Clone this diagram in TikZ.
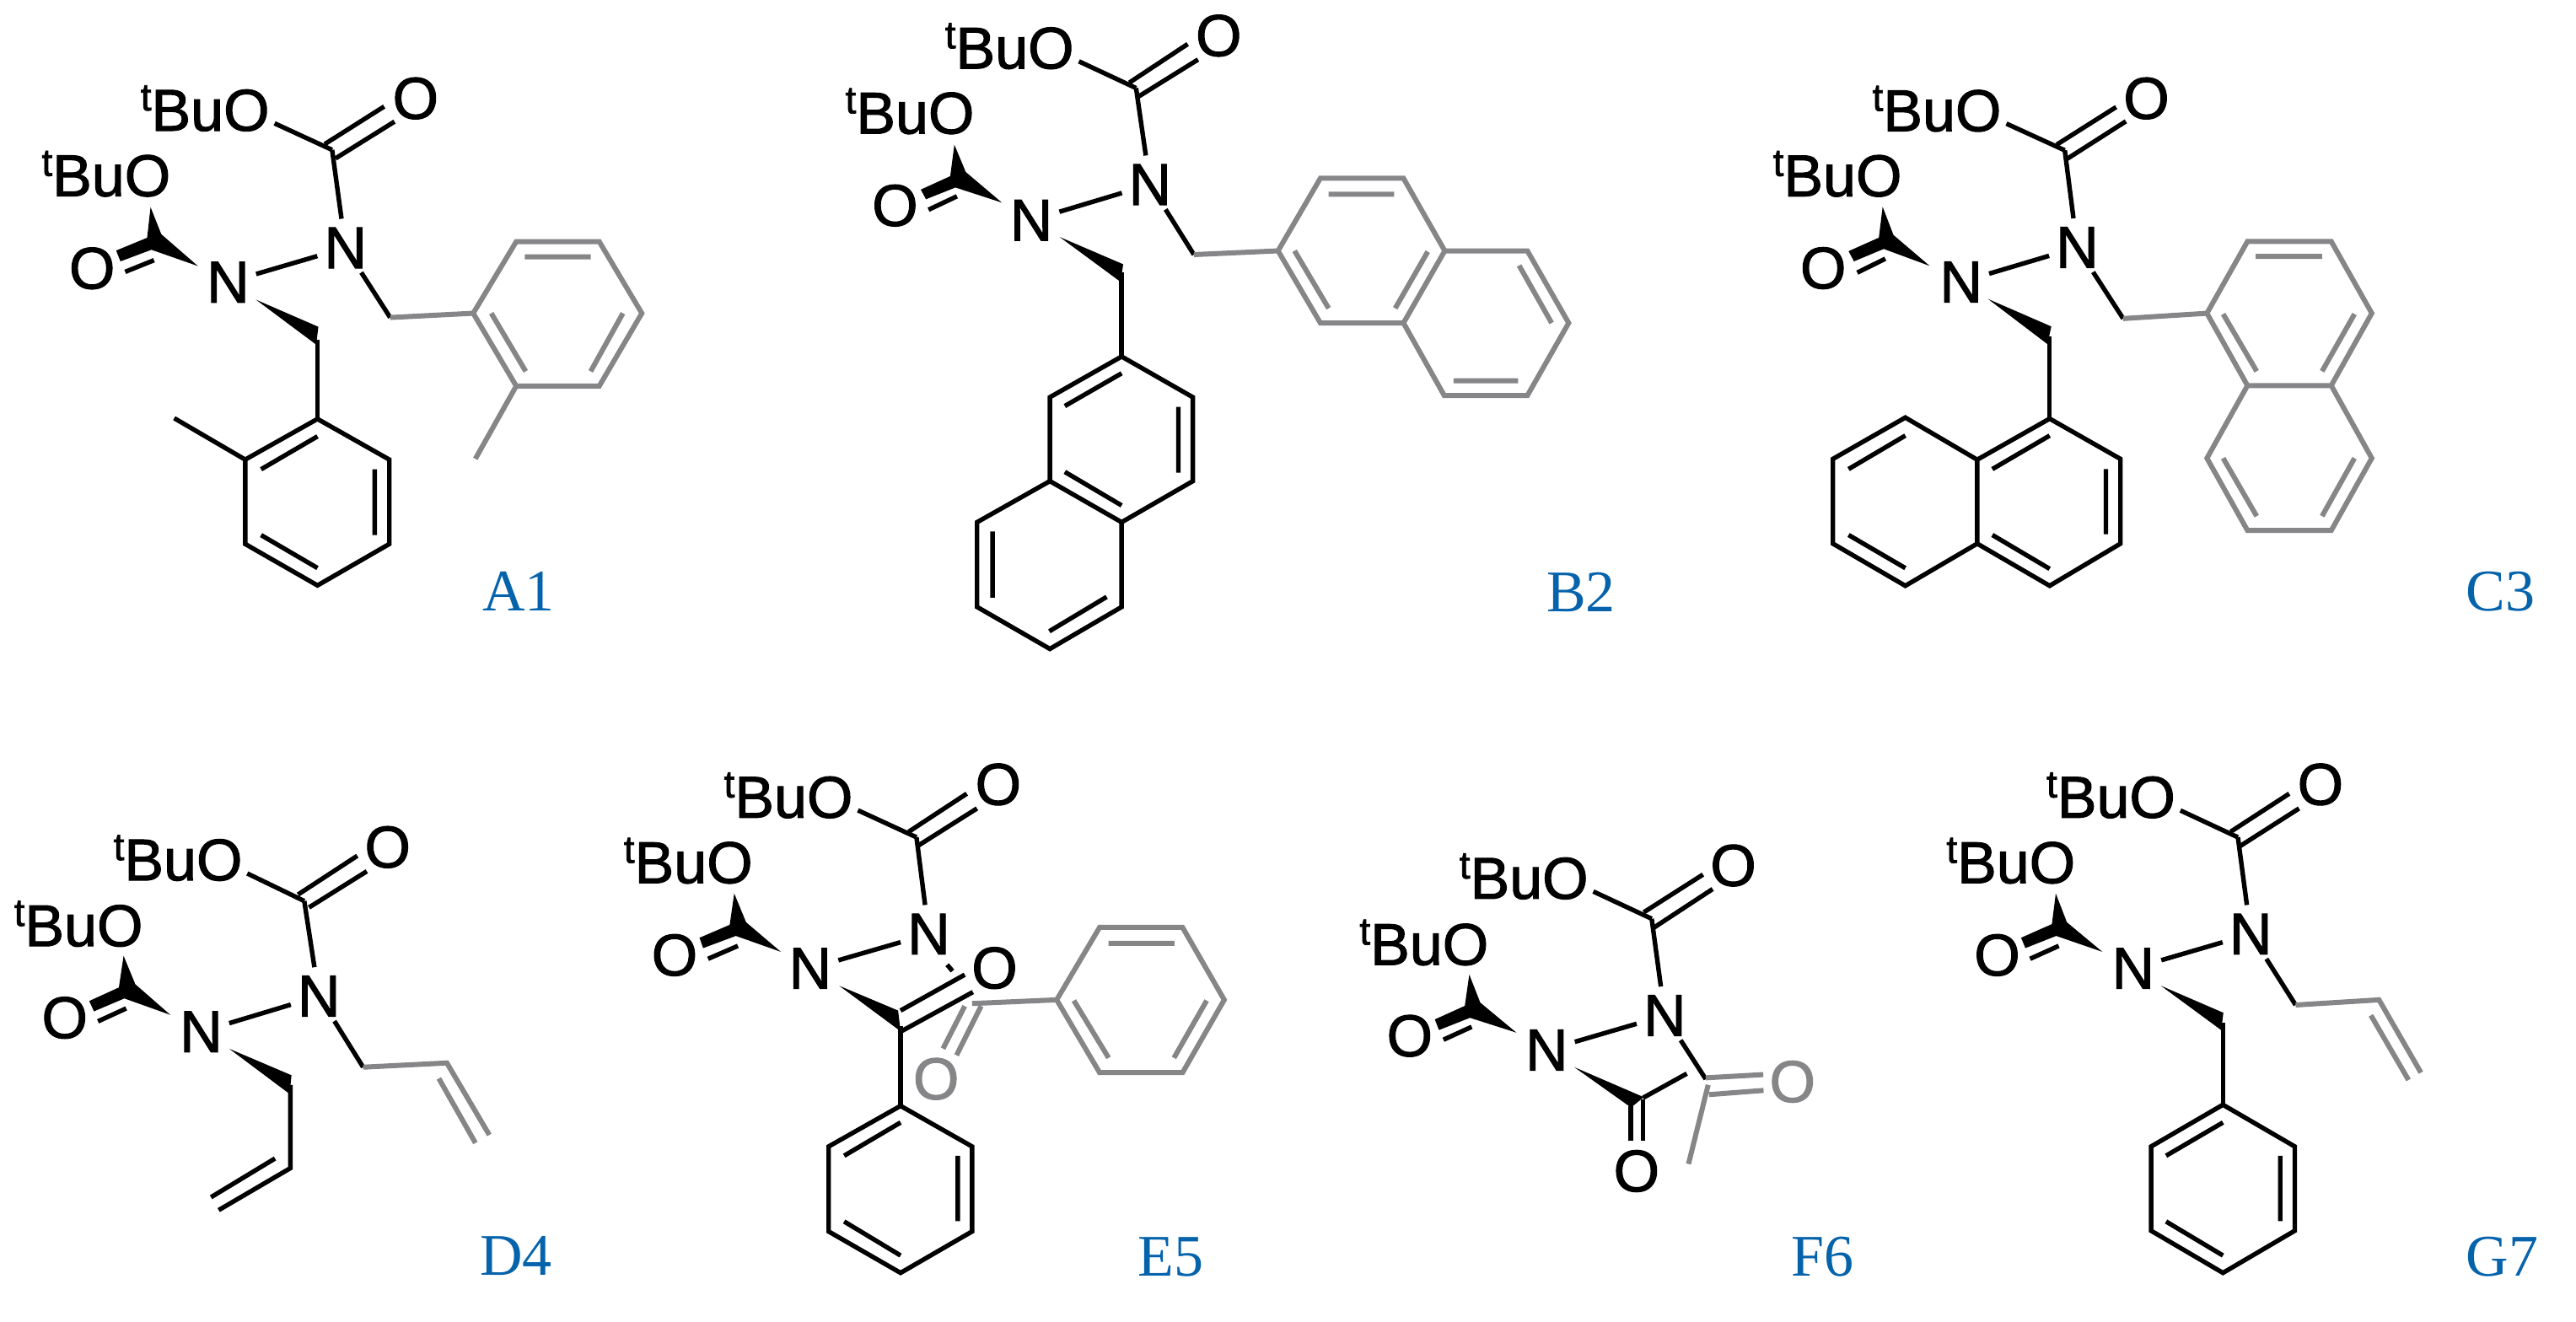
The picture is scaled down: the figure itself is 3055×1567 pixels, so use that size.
\documentclass[tikz,border=0pt]{standalone}
\usepackage{fontspec}
\setmainfont{Liberation Sans}
\newfontfamily\chemfont[FakeBold=1.5]{Liberation Sans}
\newfontfamily\tagfont{Liberation Serif}
\definecolor{gbond}{HTML}{868689}
\definecolor{tagblue}{HTML}{0563AC}
\tikzset{
  atom/.style={circle,inner sep=0pt,outer sep=0pt,text=black,font=\chemfont\fontsize{70}{70}\selectfont},
  gatom/.style={atom,text=gbond},
  tbu/.style={anchor=base east,inner sep=0pt,outer sep=0pt,text=black,font=\chemfont\fontsize{70}{70}\selectfont},
  bond/.style={draw=black,line width=5.4pt,line join=miter},
  grey/.style={draw=gbond,line width=6pt,line join=miter},
  tagtext/.style={text=tagblue,inner sep=0pt,font=\tagfont\fontsize{70}{70}\selectfont},
  mol/.style n args={4}{shift={(#1,#2)},x=#3pt,y=-#4pt}
}
\newcommand\tBuText{\raisebox{24pt}{\fontsize{46}{46}\selectfont t}Bu}
\newcommand\core[7]{%
  \coordinate (cu) at (#3);
  \node[atom] (ou) at (#1) {O};
  \node[tbu] (tu) at ([xshift=-27.2pt]ou.base) {\tBuText};
  \node[atom] (od) at (#2) {O};
  \node[atom] (nu) at (#4) {N};
  \node[atom] (nl) at (#5) {N};
  \node[atom] (ol) at (#6) {O};
  \node[tbu] (tl) at ([xshift=-27.2pt]ol.base) {\tBuText};
  \node[atom] (odl) at (#7) {O};
  \draw[bond] (ou)--(cu);
  \draw[bond] (cu)--(nu);
  \draw[bond] (nl)--(nu);
}
\newcommand\lowerC[9]{%
  \fill[black] (#1)--(#2)--(#3)--(#4)--(#5)--(#6)--(#7)--cycle;
  \draw[bond] (#8)--(#9);
}
\begin{document}
\begin{tikzpicture}[x=1pt,y=-1pt]
\useasboundingbox (0,0) rectangle (3055,1567);
\fill[white] (0,0) rectangle (3055,1567);

% A1
\begin{scope}[mol={0}{40}{.5102}{.4592},name prefix=a-]
\core{573,198}{966,167}{772,300}{803,553}{530,642}{343,367}{214,606}
\draw[bond] (755,285)--(893,188) (780,322)--(917,227);
\lowerC{350,448}{375,518}{460,600}{352,558}{280,588}{270,560}{342,527}{358,585}{291,615}
\coordinate (ch) at (907,733);
\draw[bond] (nu)--(ch);
\draw[grey] (ch)--(1100,722);
\draw[grey] (1100,722)--(1200,537)--(1393,537)--(1492,722)--(1393,910)--(1200,910)--cycle;
\draw[grey] (1220,576)--(1373,576) (1448,722)--(1373,872) (1142,722)--(1222,872) (1200,910)--(1105,1098);
\fill[black] (595,687)--(740,757)--(735,803)--cycle;
\draw[bond] (738,790)--(738,995);
\draw[bond] (738,995)--(905,1100)--(905,1318)--(738,1425)--(570,1318)--(570,1100)--cycle;
\draw[bond] (738,1040)--(607,1125) (871,1125)--(871,1295) (738,1380)--(607,1295) (570,1100)--(405,993);
\node[tagtext] (tag) at (1205,1440) {A1};
\end{scope}

% B2
\begin{scope}[mol={980}{0}{.6122}{.4975},name prefix=b-]
\core{435,115}{760,85}{600,210}{627,440}{397,525}{242,270}{133,490}
\draw[bond] (587,197)--(700,105) (605,230)--(720,142);
\lowerC{248,345}{270,410}{340,483}{250,447}{193,475}{183,452}{240,420}{253,468}{198,500}
\coordinate (ch) at (712,607);
\draw[bond] (nu)--(ch);
\draw[grey] (ch)--(875,598);
\draw[grey] (875,598)--(957,425)--(1118,425)--(1198,598)--(1118,770)--(957,770)--cycle;
\draw[grey] (1198,598)--(1358,598)--(1438,770)--(1358,943)--(1197,943)--(1118,770);
\draw[grey] (973,463)--(1100,463) (907,598)--(973,735) (1165,600)--(1102,735) (1342,633)--(1405,770) (1215,908)--(1340,908);
\fill[black] (452,565)--(575,630)--(570,672)--cycle;
\draw[bond] (572,650)--(572,850);
\draw[bond] (572,850)--(710,947)--(710,1147)--(572,1245)--(433,1147)--(433,947)--cycle;
\draw[bond] (433,1147)--(292,1245)--(292,1447)--(433,1547)--(572,1447)--(572,1245);
\draw[bond] (572,890)--(462,968) (682,970)--(682,1127) (462,1125)--(572,1205) (322,1267)--(322,1425) (432,1505)--(543,1423);
\node[tagtext] (tag) at (1462,1412) {B2};
\end{scope}

% C3
\begin{scope}[mol={2050}{60}{.6410}{.4464},name prefix=c-]
\core{462,160}{773,127}{622,265}{645,523}{430,615}{278,333}{175,578}
\draw[bond] (607,250)--(717,150) (627,287)--(735,188);
\lowerC{285,415}{305,490}{372,572}{287,527}{232,560}{222,533}{278,497}{290,553}{238,590}
\coordinate (ch) at (730,712);
\draw[bond] (nu)--(ch);
\draw[grey] (ch)--(885,698);
\draw[grey] (885,698)--(960,507)--(1115,507)--(1190,698)--(1115,890)--(960,890)--cycle;
\draw[grey] (960,890)--(885,1083)--(960,1275)--(1115,1275)--(1190,1083)--(1115,890);
\draw[grey] (975,547)--(1098,547) (915,700)--(977,852) (1158,700)--(1098,852) (915,1083)--(977,1237) (1158,1083)--(1098,1237);
\fill[black] (480,660)--(597,733)--(590,780)--cycle;
\draw[bond] (594,760)--(594,978);
\draw[bond] (594,978)--(725,1085)--(725,1310)--(594,1422)--(460,1310)--(460,1087)--cycle;
\draw[bond] (460,1087)--(327,975)--(193,1085)--(193,1310)--(327,1422)--(460,1310);
\draw[bond] (594,1023)--(488,1112) (698,1112)--(698,1285) (594,1377)--(488,1287) (327,1023)--(222,1112) (222,1287)--(327,1375);
\node[tagtext] (tag) at (1428,1438) {C3};
\end{scope}

% D4
\begin{scope}[mol={0}{950}{.4337}{.3827},name prefix=d-]
\core{600,183}{1060,143}{832,310}{872,605}{550,715}{328,387}{177,672}
\draw[bond] (815,290)--(977,170) (845,330)--(1003,218);
\lowerC{338,480}{370,568}{466,663}{340,612}{257,652}{244,620}{325,578}{345,643}{268,683}
\coordinate (ch) at (993,825);
\draw[bond] (nu)--(ch);
\draw[grey] (ch)--(1222,812)--(1338,1035) (1200,860)--(1300,1060);
\fill[black] (627,768)--(797,850)--(792,908)--cycle;
\draw[bond] (794,880)--(794,1138)--(598,1268) (752,1108)--(577,1228);
\node[tagtext] (tag) at (1411,1411) {D4};
\end{scope}

% E5
\begin{scope}[mol={720}{880}{.4847}{.4382},name prefix=e-]
\core{545,150}{957,115}{757,258}{787,520}{497,613}{300,327}{165,577}
\draw[bond] (738,243)--(880,140) (762,280)--(905,180);
\lowerC{311,410}{340,488}{425,568}{315,525}{235,558}{226,530}{300,495}{320,552}{247,587}
\draw[grey] (893,708)--(1100,698);
\draw[grey] (915,715)--(855,848) (875,715)--(822,830);
\node[gatom] (og) at (805,912) {O};
\draw[grey] (1100,698)--(1205,502)--(1408,502)--(1510,698)--(1408,895)--(1205,895)--cycle;
\draw[grey] (1227,545)--(1388,545) (1142,700)--(1227,855) (1467,700)--(1387,855);
\coordinate (s1) at (832,603);
\coordinate (s2) at (845,620);
\draw[bond] (s1)--(s2);
\node[atom] (ok) at (948,612) {O};
\fill[black] (568,660)--(712,727)--(718,783)--cycle;
\draw[bond] (718,727)--(875,630) (720,783)--(895,677);
\draw[bond] (718,770)--(718,985);
\draw[bond] (718,985)--(893,1095)--(893,1325)--(718,1437)--(542,1325)--(542,1095)--cycle;
\draw[bond] (718,1030)--(580,1120) (858,1120)--(858,1297) (718,1390)--(580,1298);
\node[tagtext] (tag) at (1379,1393) {E5};
\end{scope}

% F6
\begin{scope}[mol={1580}{950}{.4082}{.3827},name prefix=f-]
\core{677,240}{1165,200}{928,365}{966,665}{623,772}{387,445}{225,728}
\draw[bond] (905,345)--(1077,228) (935,392)--(1105,273);
\lowerC{398,538}{430,625}{535,718}{400,672}{310,710}{298,677}{385,635}{405,700}{323,740}
\coordinate (ca) at (1085,862);
\draw[bond] (nu)--(ca);
\node[gatom] (og) at (1337,870) {O};
\draw[grey] (1085,858)--(1252,848) (1095,910)--(1253,897) (1092,880)--(1035,1125);
\draw[bond] (903,920)--(1030,845);
\fill[black] (703,825)--(905,918)--(868,950)--cycle;
\node[atom] (ok) at (884,1147) {O};
\draw[bond] (867,945)--(867,1052) (902,925)--(902,1052);
\node[tagtext] (tag) at (1424,1412) {F6};
\end{scope}

% G7
\begin{scope}[mol={2260}{880}{.5071}{.4382},name prefix=g-]
\core{577,150}{970,115}{777,258}{807,520}{532,613}{343,327}{214,577}
\draw[bond] (760,243)--(897,140) (782,282)--(920,180);
\lowerC{351,410}{377,488}{460,568}{352,525}{280,558}{270,530}{342,493}{358,552}{291,587}
\coordinate (ch) at (912,712);
\draw[bond] (nu)--(ch);
\draw[grey] (ch)--(1107,698)--(1205,895) (1088,740)--(1176,915);
\fill[black] (597,660)--(743,733)--(738,780)--cycle;
\draw[bond] (742,760)--(742,982);
\draw[bond] (742,982)--(910,1095)--(910,1323)--(742,1437)--(574,1323)--(574,1095)--cycle;
\draw[bond] (742,1030)--(609,1120) (876,1120)--(876,1297) (742,1390)--(609,1298);
\node[tagtext] (tag) at (1395,1393) {G7};
\end{scope}
\end{tikzpicture}
\end{document}
